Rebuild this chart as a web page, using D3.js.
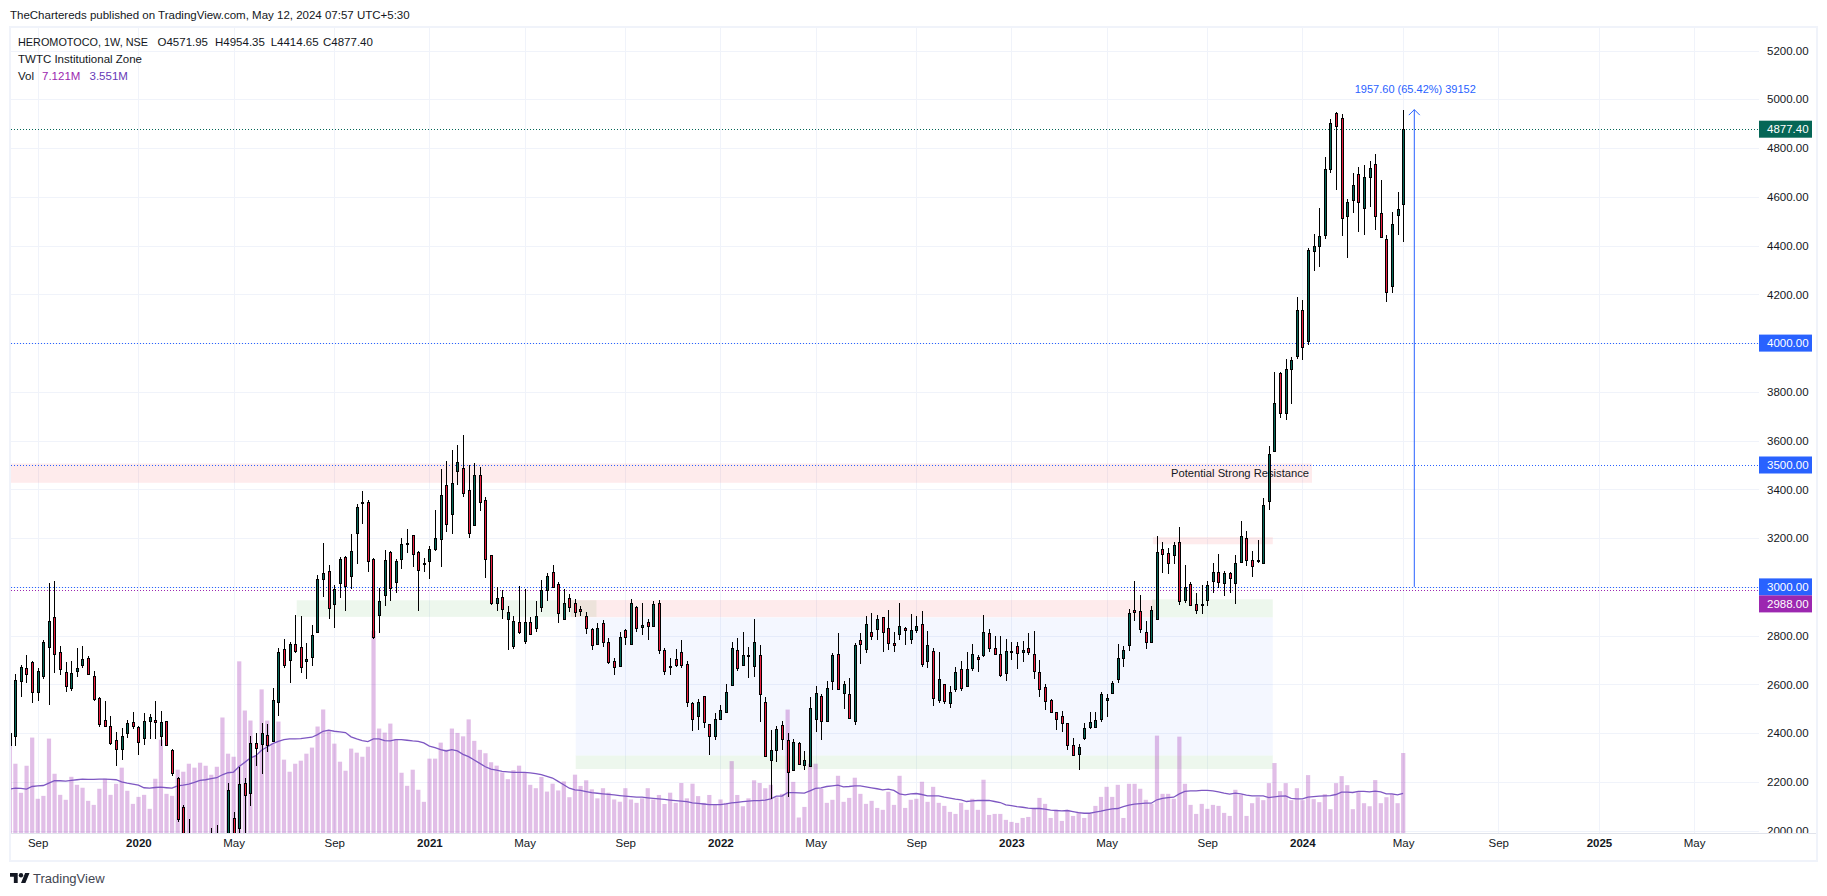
<!DOCTYPE html>
<html>
<head>
<meta charset="utf-8">
<script src="https://cdn.jsdelivr.net/npm/d3@7"></script>
<style>
html,body{margin:0;padding:0;background:#fff;overflow:hidden;}
text{font-family:"Liberation Sans",sans-serif;fill:#131722;}
</style>
</head>
<body>
<div id="vis"></div>
<script>
// weekly bars, the first one is the week of 2019-07-29
var firstWeek = new Date(Date.UTC(2019,6,29));
var opens = [
2350,2390,2616,2669,2693,2570,2635,2754,2875,2731,
2649,2586,2656,2680,2710,2633,2546,2456,2431,2374,
2336,2399,2444,2427,2382,2452,2456,2390,2448,2333,
2218,2099,1991,1810,1680,1620,1560,1900,1830,1850,
2051,2013,2197,2156,2358,2356,2394,2367,2528,2747,
2701,2764,2754,2697,2713,2813,3033,3067,2928,3014,
3121,3046,3222,3345,3350,3116,2885,2967,3145,3021,
3116,3182,3211,3145,3100,3108,3157,3198,3416,3297,
3477,3486,3399,3252,3461,3358,3129,2932,2960,2870,
2759,2858,2780,2858,2833,2919,2989,3063,3010,2869,
2956,2936,2911,2882,2829,2767,2850,2772,2698,2677,
2825,2767,2919,2837,2858,2841,2936,2743,2674,2706,
2735,2682,2522,2471,2551,2436,2389,2459,2488,2596,
2740,2678,2718,2677,2719,2526,2288,2329,2432,2370,
2247,2358,2268,2267,2460,2554,2448,2612,2723,2563,
2559,2452,2784,2747,2813,2829,2875,2833,2768,2805,
2833,2788,2825,2846,2698,2739,2538,2600,2522,2583,
2665,2594,2669,2714,2719,2809,2751,2723,2645,2736,
2756,2731,2751,2723,2649,2591,2538,2485,2472,2440,
2353,2316,2382,2427,2427,2460,2538,2563,2624,2710,
2760,2907,2903,2817,2776,2870,3154,3141,3129,3186,
2948,3010,2928,2925,2948,3026,3063,3014,3055,3018,
3104,3202,3112,3108,3100,3354,3557,3879,3715,3895,
3949,4137,4010,4379,4399,4445,4715,4945,4925,4523,
4588,4695,4555,4683,4736,4535,4428,4235,4527,4571.95];
var highs = [
2428,2641,2678,2719,2695,2669,2784,3016,3024,2756,
2690,2698,2749,2756,2715,2657,2550,2534,2472,2403,
2423,2456,2485,2431,2481,2477,2530,2493,2450,2335,
2220,2107,2050,1880,1760,1700,2013,2022,1960,2197,
2076,2262,2218,2390,2399,2440,2437,2587,2749,2788,
2772,2883,2879,2768,2842,3047,3180,3089,3006,3121,
3125,3219,3338,3393,3358,3118,2996,3153,3147,3116,
3200,3239,3213,3149,3120,3166,3317,3482,3518,3560,
3580,3625,3498,3510,3490,3367,3131,3001,2989,2923,
2882,3005,2993,2878,2944,3030,3055,3088,3022,2993,
2969,2952,2923,2899,2833,2850,2866,2792,2710,2813,
2829,2952,2921,2936,2870,2944,2948,2751,2710,2747,
2784,2698,2526,2542,2553,2438,2481,2514,2600,2776,
2789,2817,2752,2870,2760,2547,2411,2428,2448,2399,
2378,2362,2325,2550,2595,2559,2612,2727,2809,2616,
2628,2768,2809,2879,2891,2883,2877,2907,2817,2936,
2836,2887,2879,2903,2821,2751,2735,2602,2595,2673,
2698,2731,2764,2719,2883,2829,2797,2797,2788,2772,
2772,2780,2809,2821,2702,2600,2541,2487,2489,2442,
2382,2357,2440,2485,2485,2567,2559,2612,2764,2756,
2911,3026,2965,2862,2920,3208,3186,3158,3186,3244,
3088,3022,2973,3006,3026,3100,3133,3067,3063,3129,
3272,3231,3149,3194,3366,3577,3883,3881,3936,3945,
4191,4178,4392,4449,4555,4765,4921,4947,4941,4592,
4699,4724,4732,4748,4777,4670,4445,4539,4621,4954.35];
var lows = [
2330,2348,2549,2606,2522,2533,2623,2516,2648,2639,
2570,2574,2631,2668,2639,2533,2426,2426,2352,2266,
2290,2381,2418,2311,2352,2377,2378,2349,2351,2225,
2036,1880,1780,1620,1560,1480,1475,1800,1750,1800,
1900,1960,1960,2102,2266,2234,2321,2364,2471,2668,
2606,2730,2648,2623,2676,2812,2959,2869,2832,2955,
2902,2993,3093,3257,3060,2787,2811,2921,2941,2975,
3074,3137,3082,2901,3062,3033,3149,3082,3226,3217,
3416,3369,3202,3250,3312,3037,2927,2903,2869,2743,
2746,2808,2767,2804,2815,2895,2943,2996,2852,2866,
2895,2877,2881,2808,2743,2765,2755,2685,2639,2674,
2763,2765,2815,2803,2782,2839,2726,2639,2639,2673,
2668,2508,2410,2414,2422,2311,2373,2458,2486,2595,
2656,2677,2627,2631,2444,2303,2130,2283,2329,2140,
2246,2270,2247,2266,2403,2372,2444,2579,2579,2501,
2460,2435,2684,2730,2784,2783,2731,2743,2731,2784,
2760,2764,2809,2673,2669,2513,2522,2518,2505,2567,
2575,2591,2657,2649,2714,2735,2719,2632,2616,2702,
2665,2690,2719,2624,2550,2497,2481,2415,2404,2333,
2308,2247,2374,2419,2423,2446,2467,2561,2606,2673,
2739,2861,2809,2746,2775,2866,3059,3051,3092,2924,
2932,2922,2888,2888,2920,2977,2994,2961,2977,2928,
3102,3087,3041,3096,3098,3317,3555,3693,3685,3750,
3936,3932,3994,4297,4313,4428,4699,4629,4440,4350,
4535,4457,4445,4560,4465,4432,4170,4207,4445,4414.65];
var closes = [
2400,2620,2671,2641,2570,2657,2776,2862,2725,2664,
2594,2645,2669,2706,2641,2541,2438,2430,2360,2336,
2390,2440,2430,2362,2452,2468,2444,2444,2353,2238,
2048,1900,1810,1680,1620,1550,1900,1830,1880,2166,
1950,2193,2147,2358,2340,2399,2353,2538,2735,2680,
2764,2738,2672,2706,2801,3031,3059,2914,2990,3113,
3002,3149,3326,3350,3107,2793,2944,3112,2997,3108,
3178,3178,3133,3071,3096,3157,3202,3375,3256,3428,
3514,3387,3223,3461,3350,3116,2936,2956,2911,2895,
2862,2815,2858,2808,2882,2989,3046,3000,2891,2936,
2919,2895,2903,2833,2763,2833,2772,2692,2673,2796,
2796,2932,2833,2845,2841,2928,2743,2657,2677,2681,
2681,2529,2459,2526,2444,2389,2460,2497,2567,2748,
2668,2719,2720,2772,2559,2307,2329,2419,2378,2239,
2362,2272,2292,2505,2563,2448,2587,2719,2583,2600,
2464,2760,2764,2846,2797,2870,2817,2768,2760,2838,
2825,2825,2838,2682,2760,2546,2624,2534,2567,2649,
2587,2665,2723,2706,2817,2751,2723,2637,2739,2739,
2727,2743,2735,2653,2583,2534,2485,2460,2440,2353,
2312,2345,2423,2444,2456,2559,2546,2604,2710,2743,
2891,2899,2829,2776,2907,3145,3133,3100,3170,2944,
2998,2924,2907,2928,3006,3063,3022,3055,3035,3096,
3210,3112,3087,3112,3334,3547,3756,3715,3895,3932,
4137,3986,4380,4399,4440,4715,4904,4892,4514,4580,
4650,4580,4683,4720,4523,4436,4211,4490,4551,4877.40];
// volume and its moving average, in millions
var volumes = [
8.57,6.17,3.59,5.99,8.49,3.06,3.32,8.40,5.28,3.41,
2.97,5.01,4.30,4.04,2.88,2.52,3.95,4.84,3.41,4.39,
5.82,3.77,2.61,3.23,3.41,2.17,4.84,8.31,3.50,3.32,
5.64,5.46,6.17,5.82,6.26,5.99,5.19,5.90,10.27,7.06,
6.79,15.25,10.89,10.0,6.9,12.76,10.0,7.95,9.91,6.53,
5.46,6.17,6.44,7.06,7.60,9.47,10.98,9.11,7.95,6.35,
5.55,7.51,7.15,6.79,7.68,17.95,9.29,8.93,9.73,8.37,
5.37,4.21,5.64,3.86,2.79,6.62,6.62,8.04,7.42,9.29,
8.9,8.6,10.1,8.2,7.4,7.1,6.3,6.0,5.4,4.8,
5.6,6.0,5.4,4.3,4.0,5.0,3.7,4.4,3.8,4.6,
3.2,5.2,4.2,4.7,3.9,3.1,4.0,3.6,3.0,2.8,
4.0,3.0,2.7,3.1,4.0,3.0,3.4,2.6,3.6,2.7,
4.46,3.1,4.4,3.3,2.7,3.4,2.6,3.0,2.7,6.4,
3.4,2.4,3.1,4.7,4.46,4.0,4.3,3.2,3.5,10.97,
4.56,1.4,2.34,6.17,6.17,3.95,2.70,2.97,5.10,2.79,
3.14,4.93,3.50,2.61,2.88,2.25,2.08,3.68,2.52,5.10,
2.25,2.97,3.06,4.57,2.79,4.12,2.70,2.43,1.90,1.72,
2.70,2.08,3.06,2.08,4.75,1.63,1.72,1.72,1.19,1.01,
0.92,1.36,1.45,2.17,3.14,2.61,1.36,2.08,1.10,2.08,
1.54,1.90,1.36,1.72,2.43,3.23,4.12,3.23,4.30,1.36,
4.39,4.39,3.95,2.97,2.61,8.66,3.50,3.50,3.06,8.57,
4.39,2.52,1.72,2.61,2.17,2.52,2.43,1.81,1.54,3.86,
3.41,1.54,2.67,3.20,2.94,4.45,6.23,3.74,4.45,2.94,
4.0,2.94,5.16,3.03,2.76,3.47,2.14,4.45,5.07,4.27,
2.14,3.65,2.67,2.40,4.72,2.67,3.20,3.47,2.67,7.121];
var volumeMA = [
3.92,4.0,3.98,3.92,4.15,4.21,4.24,4.45,4.66,4.66,
4.63,4.69,4.75,4.81,4.78,4.78,4.81,4.81,4.78,4.75,
4.57,4.45,4.36,4.27,4.04,4.0,4.06,4.09,4.04,4.0,
4.21,4.27,4.36,4.51,4.69,4.75,4.84,4.93,5.19,5.37,
5.43,5.93,6.29,6.68,6.88,7.36,7.65,7.95,8.16,8.31,
8.37,8.37,8.40,8.46,8.52,8.75,9.05,9.14,9.05,8.99,
8.93,8.55,8.37,8.22,8.13,8.37,8.37,8.22,8.19,8.31,
8.31,8.25,8.19,8.16,8.01,7.74,7.60,7.42,7.30,7.42,
7.3,7.0,6.8,6.5,6.2,5.9,5.7,5.6,5.5,5.45,
5.4,5.4,5.4,5.35,5.3,5.2,5.05,4.9,4.6,4.3,
4.0,3.85,3.8,3.7,3.6,3.55,3.5,3.45,3.4,3.35,
3.3,3.25,3.2,3.2,3.15,3.1,3.05,3.0,2.95,2.9,
2.85,2.8,2.7,2.65,2.6,2.55,2.55,2.55,2.6,2.7,
2.75,2.8,2.85,2.9,2.9,2.95,3.05,3.3,3.3,3.6,
3.6,3.58,3.56,3.77,3.98,4.03,4.15,4.21,4.27,4.12,
4.15,4.21,4.21,4.12,4.03,3.95,3.86,3.92,3.80,3.50,
3.41,3.50,3.53,3.44,3.32,3.32,3.32,3.2,3.12,3.03,
2.97,2.82,2.88,2.91,2.91,2.91,2.82,2.73,2.52,2.46,
2.37,2.31,2.23,2.20,2.20,2.14,2.05,2.02,1.99,2.02,
1.93,1.84,1.78,1.78,1.87,1.96,2.08,2.17,2.20,2.37,
2.49,2.58,2.64,2.67,2.67,2.97,3.09,3.17,3.2,3.5,
3.71,3.77,3.77,3.80,3.80,3.77,3.68,3.56,3.47,3.56,
3.50,3.38,3.32,3.32,3.32,3.17,3.23,3.29,3.32,3.09,
3.06,3.06,3.2,3.26,3.29,3.32,3.35,3.44,3.65,3.65,
3.62,3.71,3.71,3.68,3.74,3.68,3.5,3.5,3.41,3.551];

var priceTicks = [2000,2200,2400,2600,2800,3000,3200,3400,3600,3800,4000,4200,4400,4600,4800,5000,5200];
var timeTicks = ["2019-09-02","2020-01-06","2020-05-04","2020-09-07","2021-01-04","2021-05-03","2021-09-06","2022-01-03","2022-05-02","2022-09-05","2023-01-02","2023-05-01","2023-09-04","2024-01-01","2024-05-06","2024-09-02","2025-01-06","2025-05-05"];
var timeLabels = ["Sep","2020","May","Sep","2021","May","Sep","2022","May","Sep","2023","May","Sep","2024","May","Sep","2025","May"];

// rectangles drawn on the chart
var zoneFrom = ["2019-01-01","2020-07-22","2021-06-30","2021-07-06","2021-07-06","2023-06-27","2023-06-28"];
var zoneTo   = ["2024-01-13","2021-08-01","2023-07-01","2023-11-25","2023-11-25","2023-11-25","2023-11-25"];
var zoneTop  = [3506,2945,2946,2874,2308,2949,3204];
var zoneBot  = [3427,2877,2876,2308,2253,2875,3175];
var zoneKind = ["red","green","red","blue","green","green","red"];

// horizontal levels and their price labels
var levels = [4877.40,4000,3500,3000,2988];
var levelLabels = ["4877.40","4000.00","3500.00","3000.00","2988.00"];
var levelColors = ["#056656","#2962ff","#2962ff","#2962ff","#9c27b0"];

var zoneFill = {"red":"rgba(242,54,69,0.1)","green":"rgba(76,175,80,0.1)","blue":"rgba(41,98,255,0.05)"};
var parseDay = d3.utcParse("%Y-%m-%d");
var bars = opens.map((o,i) => ({date:d3.utcMonday.offset(firstWeek,i),o:o,h:highs[i],l:lows[i],c:closes[i],v:volumes[i],ma:volumeMA[i]}));

var svg = d3.select("#vis").append("svg").attr("width",1827).attr("height",896).style("display","block");

// pane geometry
var paneLeft = 11, paneRight = 1759, paneTop = 28, paneBottom = 833;

var x = d3.scaleUtc().domain([parseDay("2019-08-05"),parseDay("2025-05-05")]).range([15.3,1694.1]);
var y = d3.scaleLinear().domain([2000,5000]).range([830.7,99.3]);
var yVol = d3.scaleLinear().domain([0,7.121]).range([paneBottom+0.3,753]);

var defs = svg.append("defs");
defs.append("clipPath").attr("id","pane").append("rect").attr("x",paneLeft).attr("y",paneTop).attr("width",1816-paneLeft).attr("height",paneBottom-paneTop);
defs.append("clipPath").attr("id","yclip").append("rect").attr("x",-paneRight).attr("y",paneTop).attr("width",1827).attr("height",paneBottom-paneTop);

// frame
svg.append("rect").attr("x",10).attr("y",27).attr("width",1807).attr("height",834).attr("fill","none").attr("stroke","#f0f3fa").attr("stroke-width",2);

// grid and axes
var xAxis = d3.axisBottom(x).tickValues(timeTicks.map(parseDay)).tickSize(-(paneBottom-paneTop)).tickPadding(3).tickFormat((d,i) => timeLabels[i]);
var xG = svg.append("g").attr("transform","translate(0,"+paneBottom+")").call(xAxis);
xG.select(".domain").remove();
xG.selectAll("line").attr("stroke","#f0f3fa").attr("stroke-width",1).attr("shape-rendering","crispEdges");
xG.selectAll("text").attr("font-size",11.5).style("font-family",'"Liberation Sans",sans-serif').attr("dy","0.95em")
    .attr("font-weight",(d,i) => timeLabels[i].length == 4 ? "bold" : "normal").style("fill","#131722");

var yAxis = d3.axisRight(y).tickValues(priceTicks).tickSize(-(paneRight-paneLeft)).tickPadding(8).tickFormat(d3.format(".2f"));
var yG = svg.append("g").attr("transform","translate("+paneRight+",0)").attr("clip-path","url(#yclip)").call(yAxis);
yG.select(".domain").remove();
yG.selectAll("line").attr("stroke","#f0f3fa").attr("stroke-width",1).attr("shape-rendering","crispEdges");
yG.selectAll("text").attr("font-size",11.5).style("font-family",'"Liberation Sans",sans-serif').style("fill","#131722");

svg.append("line").attr("x1",paneLeft).attr("x2",1816).attr("y1",paneBottom+0.5).attr("y2",paneBottom+0.5).attr("stroke","#e0e3eb");

var pane = svg.append("g").attr("clip-path","url(#pane)");

// zones
pane.selectAll("rect.zone").data(zoneFrom).enter().append("rect").attr("class","zone")
    .attr("x",d => x(parseDay(d)))
    .attr("width",(d,i) => x(parseDay(zoneTo[i]))-x(parseDay(d)))
    .attr("y",(d,i) => y(zoneTop[i]))
    .attr("height",(d,i) => y(zoneBot[i])-y(zoneTop[i]))
    .attr("fill",(d,i) => zoneFill[zoneKind[i]]);

// volume
pane.selectAll("rect.vol").data(bars).enter().append("rect").attr("class","vol")
    .attr("x",d => x(d.date)-2)
    .attr("width",4.2)
    .attr("y",d => yVol(d.v))
    .attr("height",d => yVol(0)-yVol(d.v))
    .attr("fill","#9c27b0").attr("fill-opacity",0.3);

var maLine = d3.line().x(d => x(d.date)).y(d => yVol(d.ma));
pane.append("path").datum(bars).attr("d",maLine).attr("fill","none").attr("stroke","#7e57c2").attr("stroke-width",1.3);

// levels
pane.selectAll("line.level").data(levels).enter().append("line").attr("class","level")
    .attr("x1",paneLeft).attr("x2",paneRight)
    .attr("y1",d => Math.round(y(d))+0.5).attr("y2",d => Math.round(y(d))+0.5)
    .attr("stroke",(d,i) => levelColors[i]).attr("stroke-dasharray","1,2");

pane.append("text").text("Potential Strong Resistance")
    .attr("x",x(parseDay("2023-10-15"))).attr("y",y(3466)).attr("dy","0.35em")
    .attr("text-anchor","middle").attr("font-size",11.2);

// arrow
var arrowX = x(parseDay("2024-05-20"));
pane.append("line").attr("x1",arrowX).attr("x2",arrowX).attr("y1",y(3000)).attr("y2",y(4957.6)).attr("stroke","#2962ff").attr("stroke-width",1);
pane.append("path").attr("d",d3.line()([[arrowX-5.5,y(4957.6)+5.5],[arrowX,y(4957.6)],[arrowX+5.5,y(4957.6)+5.5]]))
    .attr("fill","none").attr("stroke","#2962ff").attr("stroke-width",1);
pane.append("text").text("1957.60 (65.42%) 39152").attr("x",arrowX+1).attr("y",89).attr("dy","0.35em")
    .attr("text-anchor","middle").attr("font-size",11).style("fill","#2962ff");

// candles
var candles = pane.selectAll("g.candle").data(bars).enter().append("g").attr("class","candle")
    .attr("shape-rendering","crispEdges");
candles.append("line")
    .attr("x1",d => Math.round(x(d.date))+0.5).attr("x2",d => Math.round(x(d.date))+0.5)
    .attr("y1",d => y(d.h)).attr("y2",d => y(d.l)).attr("stroke","#000");
candles.append("rect")
    .attr("x",d => Math.round(x(d.date))-1+0.5)
    .attr("width",2)
    .attr("y",d => Math.round(y(Math.max(d.o,d.c)))+0.5)
    .attr("height",d => Math.max(1,Math.round(y(Math.min(d.o,d.c)))-Math.round(y(Math.max(d.o,d.c)))))
    .attr("fill",d => d.c >= d.o ? "#056656" : "#e91e3f")
    .attr("stroke","#000");

// price labels, a label that would overlap the previous one moves below it
var lastBottom = 0;
levels.forEach(function(d,i){
    var cy = y(d);
    if(cy-8.5 < lastBottom){cy = lastBottom+8.5;}
    lastBottom = cy+8.5;
    svg.append("rect").attr("x",paneRight).attr("y",cy-8.5).attr("width",53).attr("height",17).attr("fill",levelColors[i]);
    svg.append("text").text(levelLabels[i]).attr("x",paneRight+8).attr("y",cy).attr("dy","0.35em").attr("font-size",11.5).style("fill","#fff");
});

// text above and inside the chart
svg.append("text").text("TheChartereds published on TradingView.com, May 12, 2024 07:57 UTC+5:30")
    .attr("x",10).attr("y",15).attr("dy","0.35em").attr("font-size",11.5);

var legend1 = [["HEROMOTOCO, 1W, NSE",18],["O4571.95",157.5],["H4954.35",215],["L4414.65",270.7],["C4877.40",323]];
legend1.forEach(function(d,i){
    var t = svg.append("text").text(d[0]).attr("x",d[1]).attr("y",41.5).attr("dy","0.35em").attr("font-size",11.5);
    if(i == 0){t.attr("textLength",130).attr("lengthAdjust","spacingAndGlyphs");}
});
svg.append("text").text("TWTC Institutional Zone").attr("x",18).attr("y",59).attr("dy","0.35em").attr("font-size",11.5);
svg.append("text").text("Vol").attr("x",18).attr("y",76).attr("dy","0.35em").attr("font-size",11.5);
svg.append("text").text("7.121M").attr("x",42).attr("y",76).attr("dy","0.35em").attr("font-size",11.5).style("fill","#9c27b0");
svg.append("text").text("3.551M").attr("x",89.5).attr("y",76).attr("dy","0.35em").attr("font-size",11.5).style("fill","#673ab7");

// footer logo
var logo = svg.append("g").attr("transform","translate(10,870.8) scale(0.55)").attr("fill","#131722");
logo.append("path").attr("d","M14 22H7V11H0V4h14v18zM28 22h-8l7.5-18h8L28 22z");
logo.append("circle").attr("cx",20).attr("cy",8).attr("r",4);
svg.append("text").text("TradingView").attr("x",33).attr("y",878).attr("dy","0.35em").attr("font-size",13).style("fill","#434651");
</script>
</body>
</html>
